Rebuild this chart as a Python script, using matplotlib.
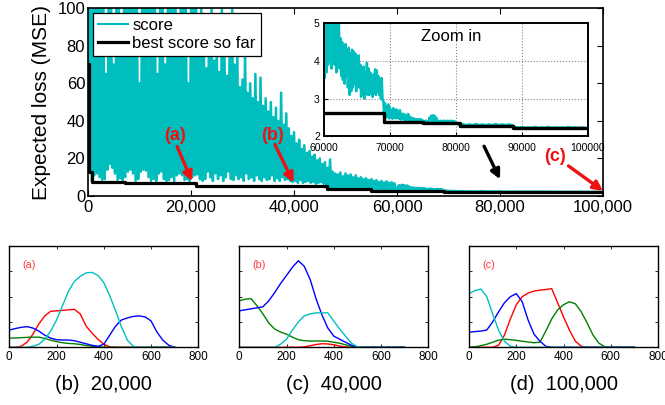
import numpy as np
import matplotlib
matplotlib.use("Agg")
import matplotlib.pyplot as plt
from matplotlib.ticker import FuncFormatter, MultipleLocator
from matplotlib.lines import Line2D

plt.rcParams['font.family'] = ['Liberation Sans', 'DejaVu Sans']

# ---------------------------------------------------------------------------
# Search trace: per-bin peaks and troughs of the score, in three resolutions
# ---------------------------------------------------------------------------
# 0 .. 60,000 in bins of 500 iterations
early_start, early_step = 0, 500
early_peaks = [
    100, 100, 100, 100, 100, 100, 100, 65, 100, 100,
    70, 100, 100, 75, 100, 100, 100, 100, 100, 100,
    60, 100, 100, 100, 100, 100, 100, 65, 100, 100,
    70, 100, 100, 100, 100, 75, 100, 100, 100, 60,
    100, 100, 100, 74, 100, 82, 68, 90, 100, 72,
    85, 66, 100, 78, 64, 80, 100, 70, 75, 58,
    62, 78, 55, 60, 52, 65, 50, 63, 48, 52,
    45, 50, 42, 47, 40, 55, 38, 44, 36, 32,
    34, 28, 30, 25, 27, 23, 24, 21, 22, 19,
    20, 17, 18, 15, 19.5, 13, 12, 11.5, 12.5, 10.5,
    12, 11, 11.5, 10, 11, 9.5, 10, 9, 9.5, 8.5,
    9, 8, 8.5, 7.5, 8, 7.2, 7.8, 7, 7.3, 6.8,
]
early_troughs = [
    12.7, 7.8, 11, 12, 10, 8.5, 9, 14, 17, 15,
    12, 8.5, 9.5, 8.5, 10, 13, 14, 12, 8, 9,
    13, 14, 13.5, 10, 8, 9, 8, 12, 13, 9,
    8, 8.5, 10, 8, 11, 12, 11, 8.5, 9, 8,
    10, 11, 11.5, 9, 8, 9, 13, 10, 8, 12,
    9, 11, 8, 10, 13, 9, 8.5, 11, 9, 10,
    8, 12, 9, 10, 8, 11, 9, 8, 10, 8.5,
    9, 11, 8, 9.5, 8, 10, 8.5, 9, 8, 7.5,
    8, 7, 8.5, 7, 7.5, 8, 7, 7.5, 6.5, 7,
    7.5, 6.5, 6, 4.5, 4.4, 4.2, 4.5, 4.3, 4.6, 4.2,
    4.4, 4.3, 4.5, 4.2, 4.3, 4.1, 4.0, 4.2, 3.9, 3.8,
    3.4, 3.2, 3.5, 3.3, 3.4, 3.6, 3.3, 3.5, 3.4, 3.6,
]

# 60,000 .. 80,000 in bins of 250 iterations
late_start, late_step = 60000, 250
late_peaks = [
    4.2, 5.4, 5.8, 5.3, 6.0, 5.5, 5.7, 5.2, 5.6, 5.1,
    4.6, 4.5, 4.4, 4.45, 4.3, 4.35, 4.2, 4.3, 4.25, 4.2,
    4.1, 4.15, 3.9, 3.75, 3.85, 3.7, 3.95, 3.8, 3.7, 3.6,
    3.65, 3.78, 3.75, 3.6, 3.5, 3.55, 2.95, 2.88, 2.8, 2.85,
    2.75, 2.7, 2.75, 2.7, 2.72, 2.65, 2.7, 2.6, 2.6, 2.58,
    2.55, 2.6, 2.52, 2.5, 2.48, 2.47, 2.46, 2.45, 2.46, 2.45,
    2.42, 2.41, 2.42, 2.41, 2.5, 2.55, 2.56, 2.55, 2.5, 2.42,
    2.41, 2.42, 2.41, 2.42, 2.41, 2.42, 2.41, 2.42, 2.41, 2.41,
]
late_troughs = [
    3.55, 3.7, 3.9, 4.0, 3.8, 4.1, 3.9, 3.7, 4.0, 3.8,
    3.6, 3.5, 3.4, 3.6, 3.3, 3.1, 3.2, 3.3, 3.4, 3.2,
    3.35, 3.3, 3.05, 3.1, 3.0, 3.15, 3.1, 3.1, 3.2, 3.05,
    3.15, 3.1, 3.2, 3.1, 3.0, 2.95, 2.5, 2.5, 2.52, 2.48,
    2.5, 2.47, 2.5, 2.48, 2.5, 2.47, 2.45, 2.46, 2.45, 2.44,
    2.45, 2.44, 2.43, 2.43, 2.42, 2.42, 2.41, 2.42, 2.41, 2.41,
    2.37, 2.37, 2.37, 2.37, 2.38, 2.4, 2.4, 2.4, 2.38, 2.37,
    2.37, 2.37, 2.37, 2.37, 2.37, 2.37, 2.37, 2.37, 2.37, 2.37,
]

# 80,000 .. 100,000 in bins of 1000 iterations
final_start, final_step = 80000, 1000
final_peaks = [2.36, 2.33, 2.32, 2.33, 2.32, 2.32, 2.33, 2.32, 2.32, 2.25,
               2.25, 2.24, 2.25, 2.24, 2.25, 2.24, 2.24, 2.25, 2.24, 2.24]
final_troughs = [2.3, 2.3, 2.3, 2.3, 2.3, 2.3, 2.3, 2.3, 2.3, 2.23,
                 2.23, 2.23, 2.23, 2.23, 2.23, 2.23, 2.23, 2.23, 2.23, 2.23]

# Best score so far (step changes)
best_iters = [0, 250, 750, 7200, 21000, 46500, 55000, 69100, 75000, 80600, 88600, 100000]
best_values = [70, 12.7, 7.6, 6.7, 5.2, 3.5, 2.61, 2.39, 2.35, 2.29, 2.22, 2.22]

# ---------------------------------------------------------------------------
# Component densities at three checkpoints
# ---------------------------------------------------------------------------
density_x = list(range(0, 701, 25))

d20k_red = [0, 0, 0.01, 0.05, 0.13, 0.23, 0.31, 0.355, 0.36, 0.365, 0.37, 0.375, 0.33, 0.21,
            0.14, 0.08, 0.03, 0.005, 0, 0, 0, 0, 0, 0, 0, 0, 0, 0, 0]
d20k_green = [0.09, 0.092, 0.095, 0.098, 0.1, 0.1, 0.088, 0.07, 0.056, 0.045, 0.038, 0.035,
              0.028, 0.018, 0.01, 0.005, 0.002, 0, 0, 0, 0, 0, 0, 0, 0, 0, 0, 0, 0]
d20k_blue = [0.17, 0.185, 0.197, 0.204, 0.19, 0.16, 0.12, 0.09, 0.075, 0.072, 0.072, 0.065,
             0.05, 0.035, 0.02, 0.01, 0.03, 0.12, 0.21, 0.27, 0.29, 0.305, 0.31, 0.3, 0.26,
             0.15, 0.07, 0.02, 0]
d20k_cyan = [0, 0, 0, 0, 0.01, 0.03, 0.08, 0.16, 0.27, 0.41, 0.55, 0.65, 0.70, 0.735, 0.74,
             0.71, 0.64, 0.51, 0.36, 0.2, 0.07, 0.01, 0, 0, 0, 0, 0, 0, 0]

d40k_red = [0, 0, 0, 0, 0, 0, 0, 0, 0, 0, 0, 0.005, 0.015, 0.028, 0.035, 0.033, 0.025, 0.012,
            0.004, 0, 0, 0, 0, 0, 0, 0, 0, 0, 0]
d40k_green = [0.46, 0.475, 0.48, 0.41, 0.33, 0.24, 0.18, 0.15, 0.13, 0.1, 0.075, 0.065, 0.062,
              0.062, 0.062, 0.06, 0.05, 0.04, 0.025, 0.01, 0, 0, 0, 0, 0, 0, 0, 0, 0]
d40k_blue = [0.36, 0.37, 0.38, 0.39, 0.40, 0.46, 0.54, 0.63, 0.71, 0.79, 0.855, 0.8, 0.67,
             0.48, 0.32, 0.19, 0.11, 0.08, 0.05, 0.02, 0, 0, 0, 0, 0, 0, 0, 0, 0]
d40k_cyan = [0, 0, 0, 0, 0, 0, 0, 0.03, 0.08, 0.17, 0.25, 0.31, 0.33, 0.34, 0.34, 0.34, 0.26,
             0.18, 0.11, 0.04, 0.005, 0, 0, 0, 0, 0, 0, 0, 0]

d100k_red = [0, 0, 0, 0, 0, 0.02, 0.12, 0.28, 0.42, 0.5, 0.535, 0.555, 0.565, 0.57, 0.58,
             0.44, 0.3, 0.17, 0.06, 0.01, 0, 0, 0, 0, 0, 0, 0, 0, 0]
d100k_green = [0, 0.005, 0.015, 0.03, 0.05, 0.07, 0.08, 0.075, 0.068, 0.06, 0.052, 0.045,
               0.05, 0.16, 0.28, 0.37, 0.42, 0.45, 0.43, 0.35, 0.24, 0.12, 0.04, 0.005,
               0, 0, 0, 0, 0]
d100k_blue = [0.15, 0.155, 0.16, 0.17, 0.25, 0.35, 0.44, 0.5, 0.53, 0.45, 0.27, 0.13, 0.06,
              0.01, 0, 0, 0, 0, 0, 0, 0, 0, 0, 0, 0, 0, 0, 0, 0]
d100k_cyan = [0.53, 0.56, 0.575, 0.5, 0.33, 0.17, 0.06, 0.01, 0, 0, 0, 0, 0, 0, 0, 0, 0, 0,
              0, 0, 0, 0, 0, 0, 0, 0, 0, 0, 0]

panels = [
    ("(a)", "(b)  20,000", d20k_red, d20k_green, d20k_blue, d20k_cyan),
    ("(b)", "(c)  40,000", d40k_red, d40k_green, d40k_blue, d40k_cyan),
    ("(c)", "(d)  100,000", d100k_red, d100k_green, d100k_blue, d100k_cyan),
]

CYAN = '#00bebe'
RED = '#ee1111'


def zigzag(start, step, peaks, troughs):
    """Interleave per-bin peaks and troughs into one polyline."""
    n = len(peaks)
    base = start + step * np.arange(n)
    x = np.empty(2 * n)
    y = np.empty(2 * n)
    x[0::2] = base
    x[1::2] = base + step / 2
    y[0::2] = peaks
    y[1::2] = troughs
    return x, y


segments = [zigzag(early_start, early_step, early_peaks, early_troughs),
            zigzag(late_start, late_step, late_peaks, late_troughs),
            zigzag(final_start, final_step, final_peaks, final_troughs)]
score_x = np.concatenate([s[0] for s in segments])
score_y = np.concatenate([s[1] for s in segments])

fig = plt.figure(figsize=(6.65, 4.05), dpi=100)

# ---------------------------------------------------------------- main trace
ax = fig.add_axes([0.1323, 0.516, 0.7745, 0.464])
ax.plot(score_x, score_y, color=CYAN, lw=1.8, solid_joinstyle='round')
ax.plot(best_iters, best_values, color='black', lw=2.3, drawstyle='steps-post')
ax.set_xlim(0, 100000)
ax.set_ylim(0, 100)
ax.xaxis.set_major_locator(MultipleLocator(20000))
ax.yaxis.set_major_locator(MultipleLocator(20))
ax.xaxis.set_major_formatter(FuncFormatter(lambda v, p: f"{int(v):,}"))
ax.tick_params(direction='in', top=True, right=True, length=4, width=0.8,
               labelsize=12, pad=3)
ax.tick_params(axis='y', pad=2)
for s in ax.spines.values():
    s.set_linewidth(1.2)
ax.set_ylabel("Expected loss (MSE)", fontsize=15)
ax.yaxis.set_label_coords(-0.072, 0.5)

handles = [Line2D([], [], color=CYAN, lw=1.5), Line2D([], [], color='black', lw=2.3)]
leg = ax.legend(handles, ["score", "best score so far"], loc='upper left',
                bbox_to_anchor=(0.0, 1.0), fontsize=12, frameon=True, fancybox=False,
                framealpha=1, edgecolor='black', borderaxespad=0.3, handlelength=1.8,
                handletextpad=0.25, labelspacing=0.15, borderpad=0.3)
leg.get_frame().set_linewidth(0.9)

# arrows pointing at the three checkpoints
arrow_red = dict(arrowstyle='-|>', color=RED, lw=2.4, mutation_scale=14, shrinkA=0, shrinkB=0)
for label, txt_xy, tail, tip in [
        ("(a)", (16900, 32.2), (17300, 26.4), (20200, 7.8)),
        ("(b)", (35900, 32.2), (36300, 27.4), (39900, 7.1)),
        ("(c)", (90700, 21.1), (93300, 16.0), (100000, 2.7))]:
    ax.text(*txt_xy, label, color=RED, fontsize=13, fontweight='bold',
            ha='center', va='center')
    ax.annotate("", xy=tip, xytext=tail, arrowprops=arrow_red, annotation_clip=False)
ax.annotate("", xy=(80000, 8.9), xytext=(76900, 26.5),
            arrowprops=dict(arrowstyle='-|>', color='black', lw=2.4, mutation_scale=14,
                            shrinkA=0, shrinkB=0))

# ---------------------------------------------------------------- zoomed inset
ins = fig.add_axes([0.4872, 0.663, 0.397, 0.2795])
ins.set_facecolor('white')
ins.plot(score_x, score_y, color=CYAN, lw=1.8, solid_joinstyle='round')
ins.plot(best_iters, best_values, color='black', lw=2.4, drawstyle='steps-post')
ins.set_xlim(60000, 100000)
ins.set_ylim(2, 5)
ins.xaxis.set_major_locator(MultipleLocator(10000))
ins.yaxis.set_major_locator(MultipleLocator(1))
ins.grid(True, linestyle=':', color='#888888', lw=0.8)
ins.tick_params(direction='in', length=3, width=0.8, labelsize=7.5, pad=3)
ins.tick_params(axis='x', pad=4.5)
for s in ins.spines.values():
    s.set_linewidth(1.4)
ins.text(0.48, 0.88, "Zoom in", transform=ins.transAxes, fontsize=12,
         ha='center', va='center')

# ---------------------------------------------------------------- densities
lefts = [0.014, 0.3598, 0.7053]
for left, (tag, caption, red, green, blue, cyan) in zip(lefts, panels):
    pax = fig.add_axes([left, 0.1425, 0.2842, 0.25])
    pax.plot(density_x, red, color='#ff0000', lw=1.0)
    pax.plot(density_x, green, color='#008000', lw=1.0)
    pax.plot(density_x, blue, color='#0000ff', lw=1.0)
    pax.plot(density_x, cyan, color='#00bfbf', lw=1.0)
    pax.set_xlim(0, 800)
    pax.set_ylim(0, 1)
    pax.xaxis.set_major_locator(MultipleLocator(200))
    pax.yaxis.set_major_locator(MultipleLocator(0.25))
    pax.tick_params(direction='in', top=True, right=True, length=2.5, width=0.6,
                    labelsize=8.5, pad=2.5, labelleft=False)
    for s in pax.spines.values():
        s.set_linewidth(1.0)
    pax.text(0.106, 0.815, tag, transform=pax.transAxes, color='#ff3b3b',
             fontsize=7.8, ha='center', va='center')
    pax.text(0.5, -0.37, caption, transform=pax.transAxes, fontsize=14.5,
             ha='center', va='center')

fig.savefig("out.png", dpi=100)
